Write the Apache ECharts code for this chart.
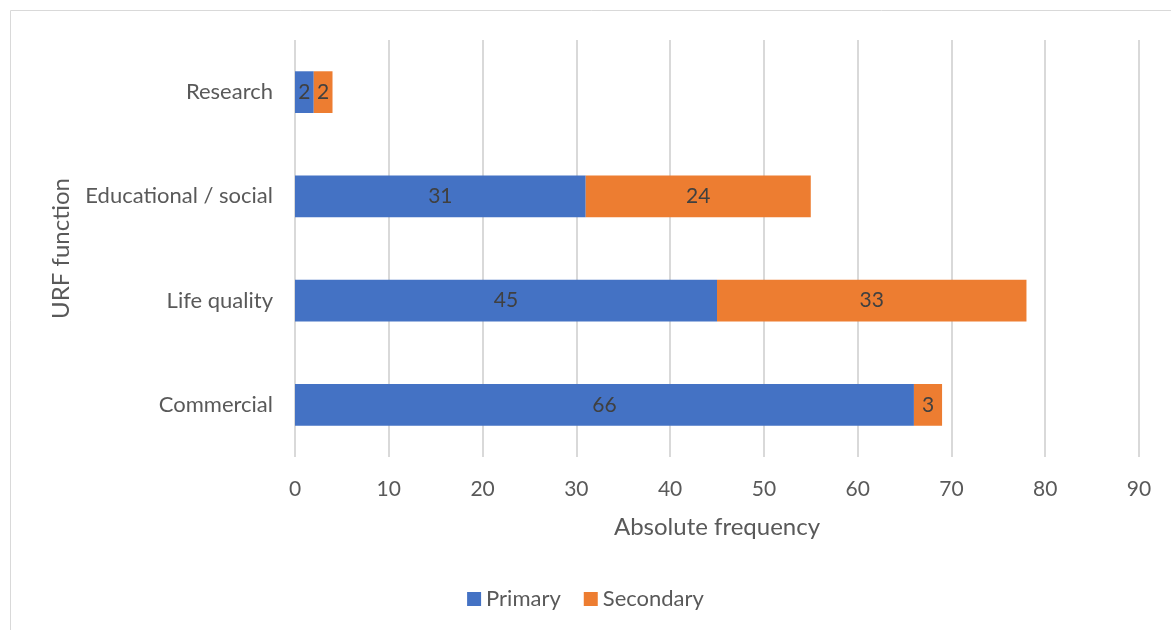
<!DOCTYPE html>
<html><head><meta charset="utf-8">
<script src="https://cdn.jsdelivr.net/npm/echarts@6/dist/echarts.min.js"></script>
<style>html,body{margin:0;padding:0;background:#fff}#c{width:1171px;height:630px}</style>
</head><body><div id="c"></div>
<script>
const categories = ['Research', 'Educational / social', 'Life quality', 'Commercial'];
const primary = [2, 31, 45, 66];
const secondary = [2, 24, 33, 3];
const xTicks = [0, 10, 20, 30, 40, 50, 60, 70, 80, 90];

const FONT = 'Lato';
const chart = echarts.init(document.getElementById('c'));
const lbl = {show: true, position: 'inside', color: '#404040', fontFamily: FONT, fontSize: 21};
chart.setOption({
  animation: false,
  textStyle: {fontFamily: FONT},
  graphic: [{type: 'rect', shape: {x: 10.5, y: 10.5, width: 1300, height: 800},
    style: {fill: 'none', stroke: '#d9d9d9', lineWidth: 1}, silent: true}],
  grid: {left: 295, right: 32, top: 40, bottom: 173},
  legend: {bottom: 15, left: 'center', itemWidth: 14, itemHeight: 14, itemGap: 23,
    icon: 'rect', textStyle: {color: '#595959', fontSize: 22, fontFamily: FONT},
    data: ['Primary', 'Secondary']},
  xAxis: {type: 'value', min: xTicks[0], max: xTicks[xTicks.length - 1], interval: 10,
    name: 'Absolute frequency', nameLocation: 'middle', nameGap: 58,
    nameTextStyle: {color: '#595959', fontSize: 24, fontFamily: FONT},
    axisLine: {show: false}, axisTick: {show: false},
    axisLabel: {color: '#595959', fontSize: 21, margin: 22, fontFamily: FONT},
    splitLine: {show: true, lineStyle: {color: '#d9d9d9', width: 2}}},
  yAxis: {type: 'category', data: categories, inverse: true,
    name: 'URF function', nameLocation: 'middle', nameGap: 222, nameRotate: 90,
    nameTextStyle: {color: '#595959', fontSize: 24, fontFamily: FONT},
    axisLine: {show: false}, axisTick: {show: false},
    axisLabel: {color: '#595959', fontSize: 22, margin: 22, fontFamily: FONT}},
  series: [
    {name: 'Primary', type: 'bar', stack: 's', data: primary, barWidth: '40%',
      itemStyle: {color: '#4472C4'}, label: lbl},
    {name: 'Secondary', type: 'bar', stack: 's', data: secondary, barWidth: '40%',
      itemStyle: {color: '#ED7D31'}, label: lbl}
  ]
});
</script></body></html>
